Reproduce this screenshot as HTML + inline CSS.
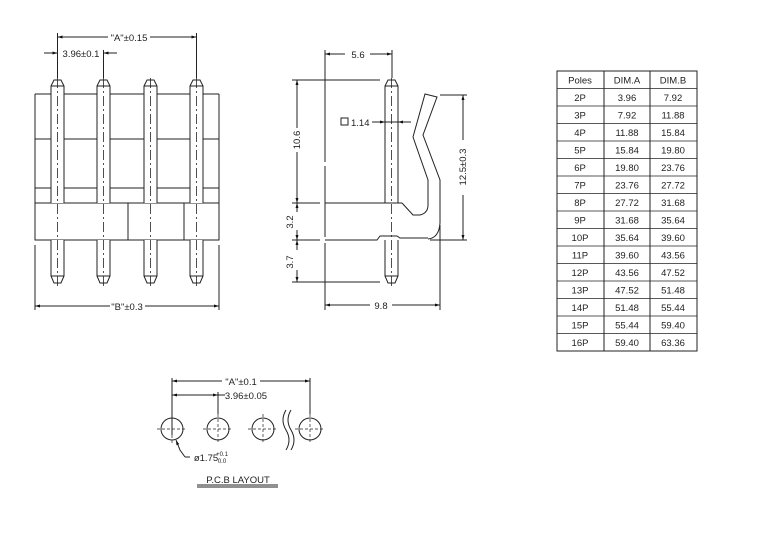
<!DOCTYPE html>
<html><head><meta charset="utf-8"><style>
html,body{margin:0;padding:0;background:#fff;}
svg{display:block;}
text{font-family:"Liberation Sans",sans-serif;fill:#222;}
</style></head><body>
<svg width="769" height="559" viewBox="0 0 769 559" xmlns="http://www.w3.org/2000/svg">
<defs>
<marker id="ar" viewBox="0 0 10 10" refX="10" refY="5" markerWidth="7" markerHeight="5" orient="auto-start-reverse"><path d="M0,2 L10,5 L0,8 z" fill="#111"/></marker>
</defs>
<g stroke="#222" stroke-width="1" fill="none">
<!-- FRONT VIEW -->
<line x1="35" y1="94" x2="219" y2="94"/>
<line x1="35" y1="139" x2="219" y2="139"/>
<line x1="35" y1="188" x2="219" y2="188"/>
<line x1="35" y1="94" x2="35" y2="203"/>
<line x1="219" y1="94" x2="219" y2="203"/>
<rect x="35" y="203" width="184" height="37" fill="#fff"/>
<line x1="128" y1="203" x2="128" y2="240"/>
<line x1="184" y1="203" x2="184" y2="240"/>
<g id="pins">
<path d="M51,203 V86 L54,80 H61 L64,86 V203" fill="#fff"/>
<line x1="51" y1="86" x2="64" y2="86"/>
<path d="M51,240 V276 L54,283 H61 L64,276 V240" fill="#fff"/>
<line x1="51" y1="276" x2="64" y2="276"/>
</g>
<use href="#pins" x="46"/>
<use href="#pins" x="93"/>
<use href="#pins" x="139"/>
<g stroke-dasharray="10,3,2,3" stroke-width="0.8">
<line x1="57.5" y1="78" x2="57.5" y2="286"/><line x1="103.5" y1="78" x2="103.5" y2="286"/>
<line x1="150.5" y1="78" x2="150.5" y2="286"/><line x1="196.5" y1="78" x2="196.5" y2="286"/>
</g>
<!-- dims front -->
<line x1="57.5" y1="33" x2="57.5" y2="78"/>
<line x1="196.5" y1="33" x2="196.5" y2="78"/>
<line x1="103.5" y1="50" x2="103.5" y2="78"/>
<line x1="57.5" y1="37" x2="108" y2="37" marker-start="url(#ar)"/>
<line x1="150" y1="37" x2="196.5" y2="37" marker-end="url(#ar)"/>
<line x1="44" y1="53" x2="57.5" y2="53" marker-end="url(#ar)"/>
<line x1="117" y1="53" x2="103.5" y2="53" marker-end="url(#ar)"/>
<line x1="35" y1="245" x2="35" y2="310"/>
<line x1="219" y1="245" x2="219" y2="310"/>
<line x1="35" y1="306" x2="110" y2="306" marker-start="url(#ar)"/>
<line x1="145" y1="306" x2="219" y2="306" marker-end="url(#ar)"/>

<!-- SIDE VIEW -->
<line x1="325" y1="50" x2="325" y2="162"/>
<line x1="325" y1="166" x2="325" y2="237"/>
<line x1="325" y1="243" x2="325" y2="310"/>
<line x1="325" y1="203" x2="402" y2="203"/>
<path d="M325,240 H377 L380,236 H397 L400,238 H428"/>
<path d="M385,203 V86 L388,80 H395 L398,86 V203"/>
<line x1="385" y1="86" x2="398" y2="86"/>
<path d="M385,240 V276 L388,283 H395 L398,276 V240"/>
<line x1="385" y1="276" x2="398" y2="276"/>
<line x1="391.5" y1="78" x2="391.5" y2="288" stroke-dasharray="10,3,2,3" stroke-width="0.8"/>
<path d="M402,203 L413,215 H420 Q428,213 428,205 V180 L413,137 L425,94 L437,97 L423,135 L440,180 V223 Q439,238 428,239"/>
<!-- side dims -->
<line x1="392" y1="50" x2="392" y2="78"/>
<line x1="325" y1="54" x2="345" y2="54" marker-start="url(#ar)"/>
<line x1="370" y1="54" x2="392" y2="54" marker-end="url(#ar)"/>
<line x1="292" y1="80" x2="380" y2="80"/>
<line x1="292" y1="203" x2="320" y2="203"/>
<line x1="292" y1="240" x2="320" y2="240"/>
<line x1="292" y1="282" x2="380" y2="282"/>
<line x1="297" y1="80" x2="297" y2="128" marker-start="url(#ar)"/>
<line x1="297" y1="152" x2="297" y2="203" marker-end="url(#ar)"/>
<line x1="297" y1="240" x2="297" y2="250" marker-start="url(#ar)"/>
<line x1="297" y1="270" x2="297" y2="282" marker-end="url(#ar)"/>
<line x1="297" y1="230" x2="297" y2="240" marker-end="url(#ar)"/>
<line x1="297" y1="203" x2="297" y2="212" marker-start="url(#ar)"/>
<line x1="440" y1="95" x2="467" y2="95"/>
<line x1="430" y1="240" x2="467" y2="240"/>
<line x1="463" y1="95" x2="463" y2="140" marker-start="url(#ar)"/>
<line x1="463" y1="195" x2="463" y2="240" marker-end="url(#ar)"/>
<line x1="440" y1="225" x2="440" y2="310"/>
<line x1="325" y1="305" x2="370" y2="305" marker-start="url(#ar)"/>
<line x1="392" y1="305" x2="440" y2="305" marker-end="url(#ar)"/>
<line x1="372" y1="122" x2="385" y2="122" marker-end="url(#ar)"/>
<line x1="411" y1="122" x2="398" y2="122" marker-end="url(#ar)"/>
<line x1="385" y1="122" x2="398" y2="122"/>
<rect x="341" y="118" width="7" height="7"/>

<!-- PCB -->
<g stroke-width="1">
<circle cx="172" cy="429" r="11"/><circle cx="218" cy="429" r="11"/>
<circle cx="263" cy="429" r="11"/><circle cx="310" cy="429" r="11"/>
</g>
<g stroke-dasharray="3,2" stroke-width="0.7">
<line x1="157" y1="429" x2="187" y2="429"/><line x1="203" y1="429" x2="233" y2="429"/>
<line x1="248" y1="429" x2="278" y2="429"/><line x1="295" y1="429" x2="325" y2="429"/>
<line x1="218" y1="414" x2="218" y2="444"/><line x1="263" y1="414" x2="263" y2="444"/>
<line x1="172" y1="435" x2="172" y2="444"/><line x1="310" y1="414" x2="310" y2="444"/>
</g>
<line x1="172" y1="378" x2="172" y2="435"/>
<line x1="218" y1="392" x2="218" y2="414"/>
<line x1="310" y1="378" x2="310" y2="414"/>
<line x1="172" y1="381" x2="222" y2="381" marker-start="url(#ar)"/>
<line x1="260" y1="381" x2="310" y2="381" marker-end="url(#ar)"/>
<line x1="172" y1="395" x2="218" y2="395" marker-start="url(#ar)" marker-end="url(#ar)"/>
<line x1="218" y1="395" x2="225" y2="395"/>
<path d="M286,410 Q280,420 286,430 Q292,440 286,450"/>
<path d="M291,410 Q285,420 291,430 Q297,440 291,450"/>
<path d="M185,457 L180,450 L176,440" marker-end="url(#ar)"/>
<line x1="185" y1="457" x2="190" y2="457"/>
<line x1="197" y1="485" x2="278" y2="485"/>
<line x1="197" y1="487" x2="278" y2="487"/>

<!-- TABLE -->
<rect x="557" y="71" width="140" height="280"/>
<line x1="604" y1="71" x2="604" y2="351"/>
<line x1="650" y1="71" x2="650" y2="351"/>
<g stroke-width="0.8">
<line x1="557" y1="88.5" x2="697" y2="88.5"/><line x1="557" y1="106" x2="697" y2="106"/>
<line x1="557" y1="123.5" x2="697" y2="123.5"/><line x1="557" y1="141" x2="697" y2="141"/>
<line x1="557" y1="158.5" x2="697" y2="158.5"/><line x1="557" y1="176" x2="697" y2="176"/>
<line x1="557" y1="193.5" x2="697" y2="193.5"/><line x1="557" y1="211" x2="697" y2="211"/>
<line x1="557" y1="228.5" x2="697" y2="228.5"/><line x1="557" y1="246" x2="697" y2="246"/>
<line x1="557" y1="263.5" x2="697" y2="263.5"/><line x1="557" y1="281" x2="697" y2="281"/>
<line x1="557" y1="298.5" x2="697" y2="298.5"/><line x1="557" y1="316" x2="697" y2="316"/>
<line x1="557" y1="333.5" x2="697" y2="333.5"/>
</g>
</g>

<g font-size="9.5" text-anchor="middle">
<text x="129" y="41">"A"±0.15</text>
<text x="81" y="57">3.96±0.1</text>
<text x="127" y="310">"B"±0.3</text>
<text x="358" y="58">5.6</text>
<text x="381" y="309">9.8</text>
<text transform="translate(300,140) rotate(-90)">10.6</text>
<text transform="translate(293,222) rotate(-90)">3.2</text>
<text transform="translate(293,262) rotate(-90)">3.7</text>
<text transform="translate(466,167) rotate(-90)">12.5±0.3</text>
<text x="241" y="385">"A"±0.1</text>
<text x="246" y="399">3.96±0.05</text>
<text x="206" y="461">ø1.75</text>
<text x="222" y="456" font-size="6">+0.1</text>
<text x="222" y="463" font-size="6">0.0</text>
<text x="238" y="483">P.C.B  LAYOUT</text>
</g>
<text x="351" y="126" font-size="9.5">1.14</text>
<g font-size="9.5" text-anchor="middle">
<text x="580" y="83.5">Poles</text><text x="627" y="83.5">DIM.A</text><text x="673" y="83.5">DIM.B</text>
<text x="580" y="101">2P</text><text x="627" y="101">3.96</text><text x="673" y="101">7.92</text>
<text x="580" y="118.5">3P</text><text x="627" y="118.5">7.92</text><text x="673" y="118.5">11.88</text>
<text x="580" y="136">4P</text><text x="627" y="136">11.88</text><text x="673" y="136">15.84</text>
<text x="580" y="153.5">5P</text><text x="627" y="153.5">15.84</text><text x="673" y="153.5">19.80</text>
<text x="580" y="171">6P</text><text x="627" y="171">19.80</text><text x="673" y="171">23.76</text>
<text x="580" y="188.5">7P</text><text x="627" y="188.5">23.76</text><text x="673" y="188.5">27.72</text>
<text x="580" y="206">8P</text><text x="627" y="206">27.72</text><text x="673" y="206">31.68</text>
<text x="580" y="223.5">9P</text><text x="627" y="223.5">31.68</text><text x="673" y="223.5">35.64</text>
<text x="580" y="241">10P</text><text x="627" y="241">35.64</text><text x="673" y="241">39.60</text>
<text x="580" y="258.5">11P</text><text x="627" y="258.5">39.60</text><text x="673" y="258.5">43.56</text>
<text x="580" y="276">12P</text><text x="627" y="276">43.56</text><text x="673" y="276">47.52</text>
<text x="580" y="293.5">13P</text><text x="627" y="293.5">47.52</text><text x="673" y="293.5">51.48</text>
<text x="580" y="311">14P</text><text x="627" y="311">51.48</text><text x="673" y="311">55.44</text>
<text x="580" y="328.5">15P</text><text x="627" y="328.5">55.44</text><text x="673" y="328.5">59.40</text>
<text x="580" y="346">16P</text><text x="627" y="346">59.40</text><text x="673" y="346">63.36</text>
</g>
</svg>
</body></html>
